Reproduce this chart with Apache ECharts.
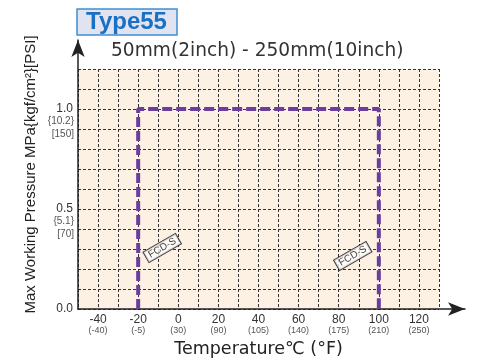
<!DOCTYPE html>
<html><head><meta charset="utf-8">
<script src="https://cdn.jsdelivr.net/npm/echarts@6/dist/echarts.min.js"></script>
<style>html,body{margin:0;padding:0;background:#fff}#c{width:480px;height:358px}</style>
</head><body><div id="c"></div>
<script>
const titleText = 'Type55';
const subtitleText = '50mm(2inch) - 250mm(10inch)';
const xName = 'Temperature℃ (°F)';
const yName = 'Max Working Pressure MPa{kgf/cm²}[PSI]';
const tempC = [-20, -20, 100, 100];
const pressure = [0, 1.0, 1.0, 0];
const xTickC = [-40, -20, 0, 20, 40, 60, 80, 100, 120];
const xTickF = ['(-40)', '(-5)', '(30)', '(90)', '(105)', '(140)', '(175)', '(210)', '(250)'];
const yTickMain = [0, 0.5, 1.0];
const yTickSub = {'0.5': '{5.1}\n[70]', '1': '{10.2}\n[150]'};
const labelName = 'FCD-S';
const labelTemp = [-8, 87];
const labelPress = [0.305, 0.265];

const FONT = 'Liberation Sans, Arial, sans-serif';
const chart = echarts.init(document.getElementById('c'));
const lineData = tempC.map((t, i) => [t, pressure[i]]);
const labelData = labelTemp.map((t, i) => [t, labelPress[i]]);

chart.setOption({
  animation: false,
  title: [
    {text: titleText, left: 77, top: 9, padding: [1, 10, 1, 9],
     backgroundColor: '#e2e3f1', borderColor: '#3f8fd4', borderWidth: 1.5,
     textStyle: {color: '#1a70c2', fontSize: 24, lineHeight: 24, fontWeight: 'bold', fontFamily: FONT}},
    {text: subtitleText, left: 111, top: 42, padding: 0,
     textStyle: {color: '#333', fontSize: 18.6, fontWeight: 'normal', fontFamily: 'DejaVu Sans, sans-serif'}}
  ],
  grid: [
    {left: 78, right: 41, top: 69, bottom: 49, show: true, backgroundColor: '#fdf1e4', borderWidth: 0,
     outerBoundsMode: 'none', containLabel: false},
    {left: 78, right: 15, top: 40, bottom: 49, outerBoundsMode: 'none', containLabel: false}
  ],
  xAxis: [
    {type: 'value', gridIndex: 0, min: -50, max: 130, interval: 10,
     name: xName, nameLocation: 'middle', nameGap: 29,
     nameTextStyle: {fontSize: 17.5, color: '#222', fontFamily: 'DejaVu Sans, sans-serif'},
     axisLine: {show: false}, axisTick: {show: false},
     splitLine: {show: true, lineStyle: {type: [3, 2], color: '#333', width: 1}},
     axisLabel: {margin: 5, interval: 0,
       formatter: v => {const i = xTickC.indexOf(v); return i < 0 ? '' : '{a|' + v + '}\n{b|' + xTickF[i] + '}';},
       rich: {a: {fontSize: 12, color: '#333', fontFamily: FONT, lineHeight: 12},
              b: {fontSize: 9, color: '#555', fontFamily: FONT, lineHeight: 10}}}},
    {type: 'value', gridIndex: 1, min: 0, max: 1,
     axisLine: {show: true, symbol: ['none', 'arrow'], symbolSize: [10, 17], lineStyle: {color: '#222', width: 1.5}},
     axisTick: {show: false}, axisLabel: {show: false}, splitLine: {show: false}}
  ],
  yAxis: [
    {type: 'value', gridIndex: 0, min: 0, max: 1.2, interval: 0.1,
     axisLine: {show: false}, axisTick: {show: false},
     splitLine: {show: true, lineStyle: {type: [3, 2], color: '#333', width: 1}},
     axisLabel: {margin: 5, fontSize: 12, color: '#333', fontFamily: FONT,
       formatter: v => {const r = Math.round(v * 10) / 10; return yTickMain.indexOf(r) < 0 ? '' : r.toFixed(1);}}},
    {type: 'value', gridIndex: 0, min: 0, max: 1.2, interval: 0.1, position: 'left',
     axisLine: {show: false}, axisTick: {show: false}, splitLine: {show: false},
     axisLabel: {margin: 4, fontSize: 10, color: '#555', fontFamily: FONT, lineHeight: 12.5,
       formatter: v => {const r = Math.round(v * 10) / 10; const s = yTickSub[String(r)]; return s ? '\n\n\n' + s : '';}}},
    {type: 'value', gridIndex: 1, min: 0, max: 1,
     name: yName, nameLocation: 'middle', nameGap: 40,
     nameTextStyle: {fontSize: 15, color: '#222', fontFamily: FONT},
     axisLine: {show: true, symbol: ['none', 'arrow'], symbolSize: [10, 17], lineStyle: {color: '#222', width: 1.5}},
     axisTick: {show: false}, axisLabel: {show: false}, splitLine: {show: false}}
  ],
  series: [
    {type: 'line', xAxisIndex: 0, yAxisIndex: 0, data: lineData, symbol: 'none',
     lineStyle: {color: '#6a3d9e', width: 4, type: [10, 4]}, z: 5},
    {type: 'scatter', xAxisIndex: 0, yAxisIndex: 0, data: labelData, symbolSize: 0.1,
     label: {show: true, position: 'inside', formatter: labelName, rotate: 30,
       fontSize: 10, color: '#111', fontFamily: FONT, backgroundColor: '#fff',
       borderColor: '#111', borderWidth: 1, padding: [1, 3, 0, 3]}, z: 6}
  ]
});
</script></body></html>
